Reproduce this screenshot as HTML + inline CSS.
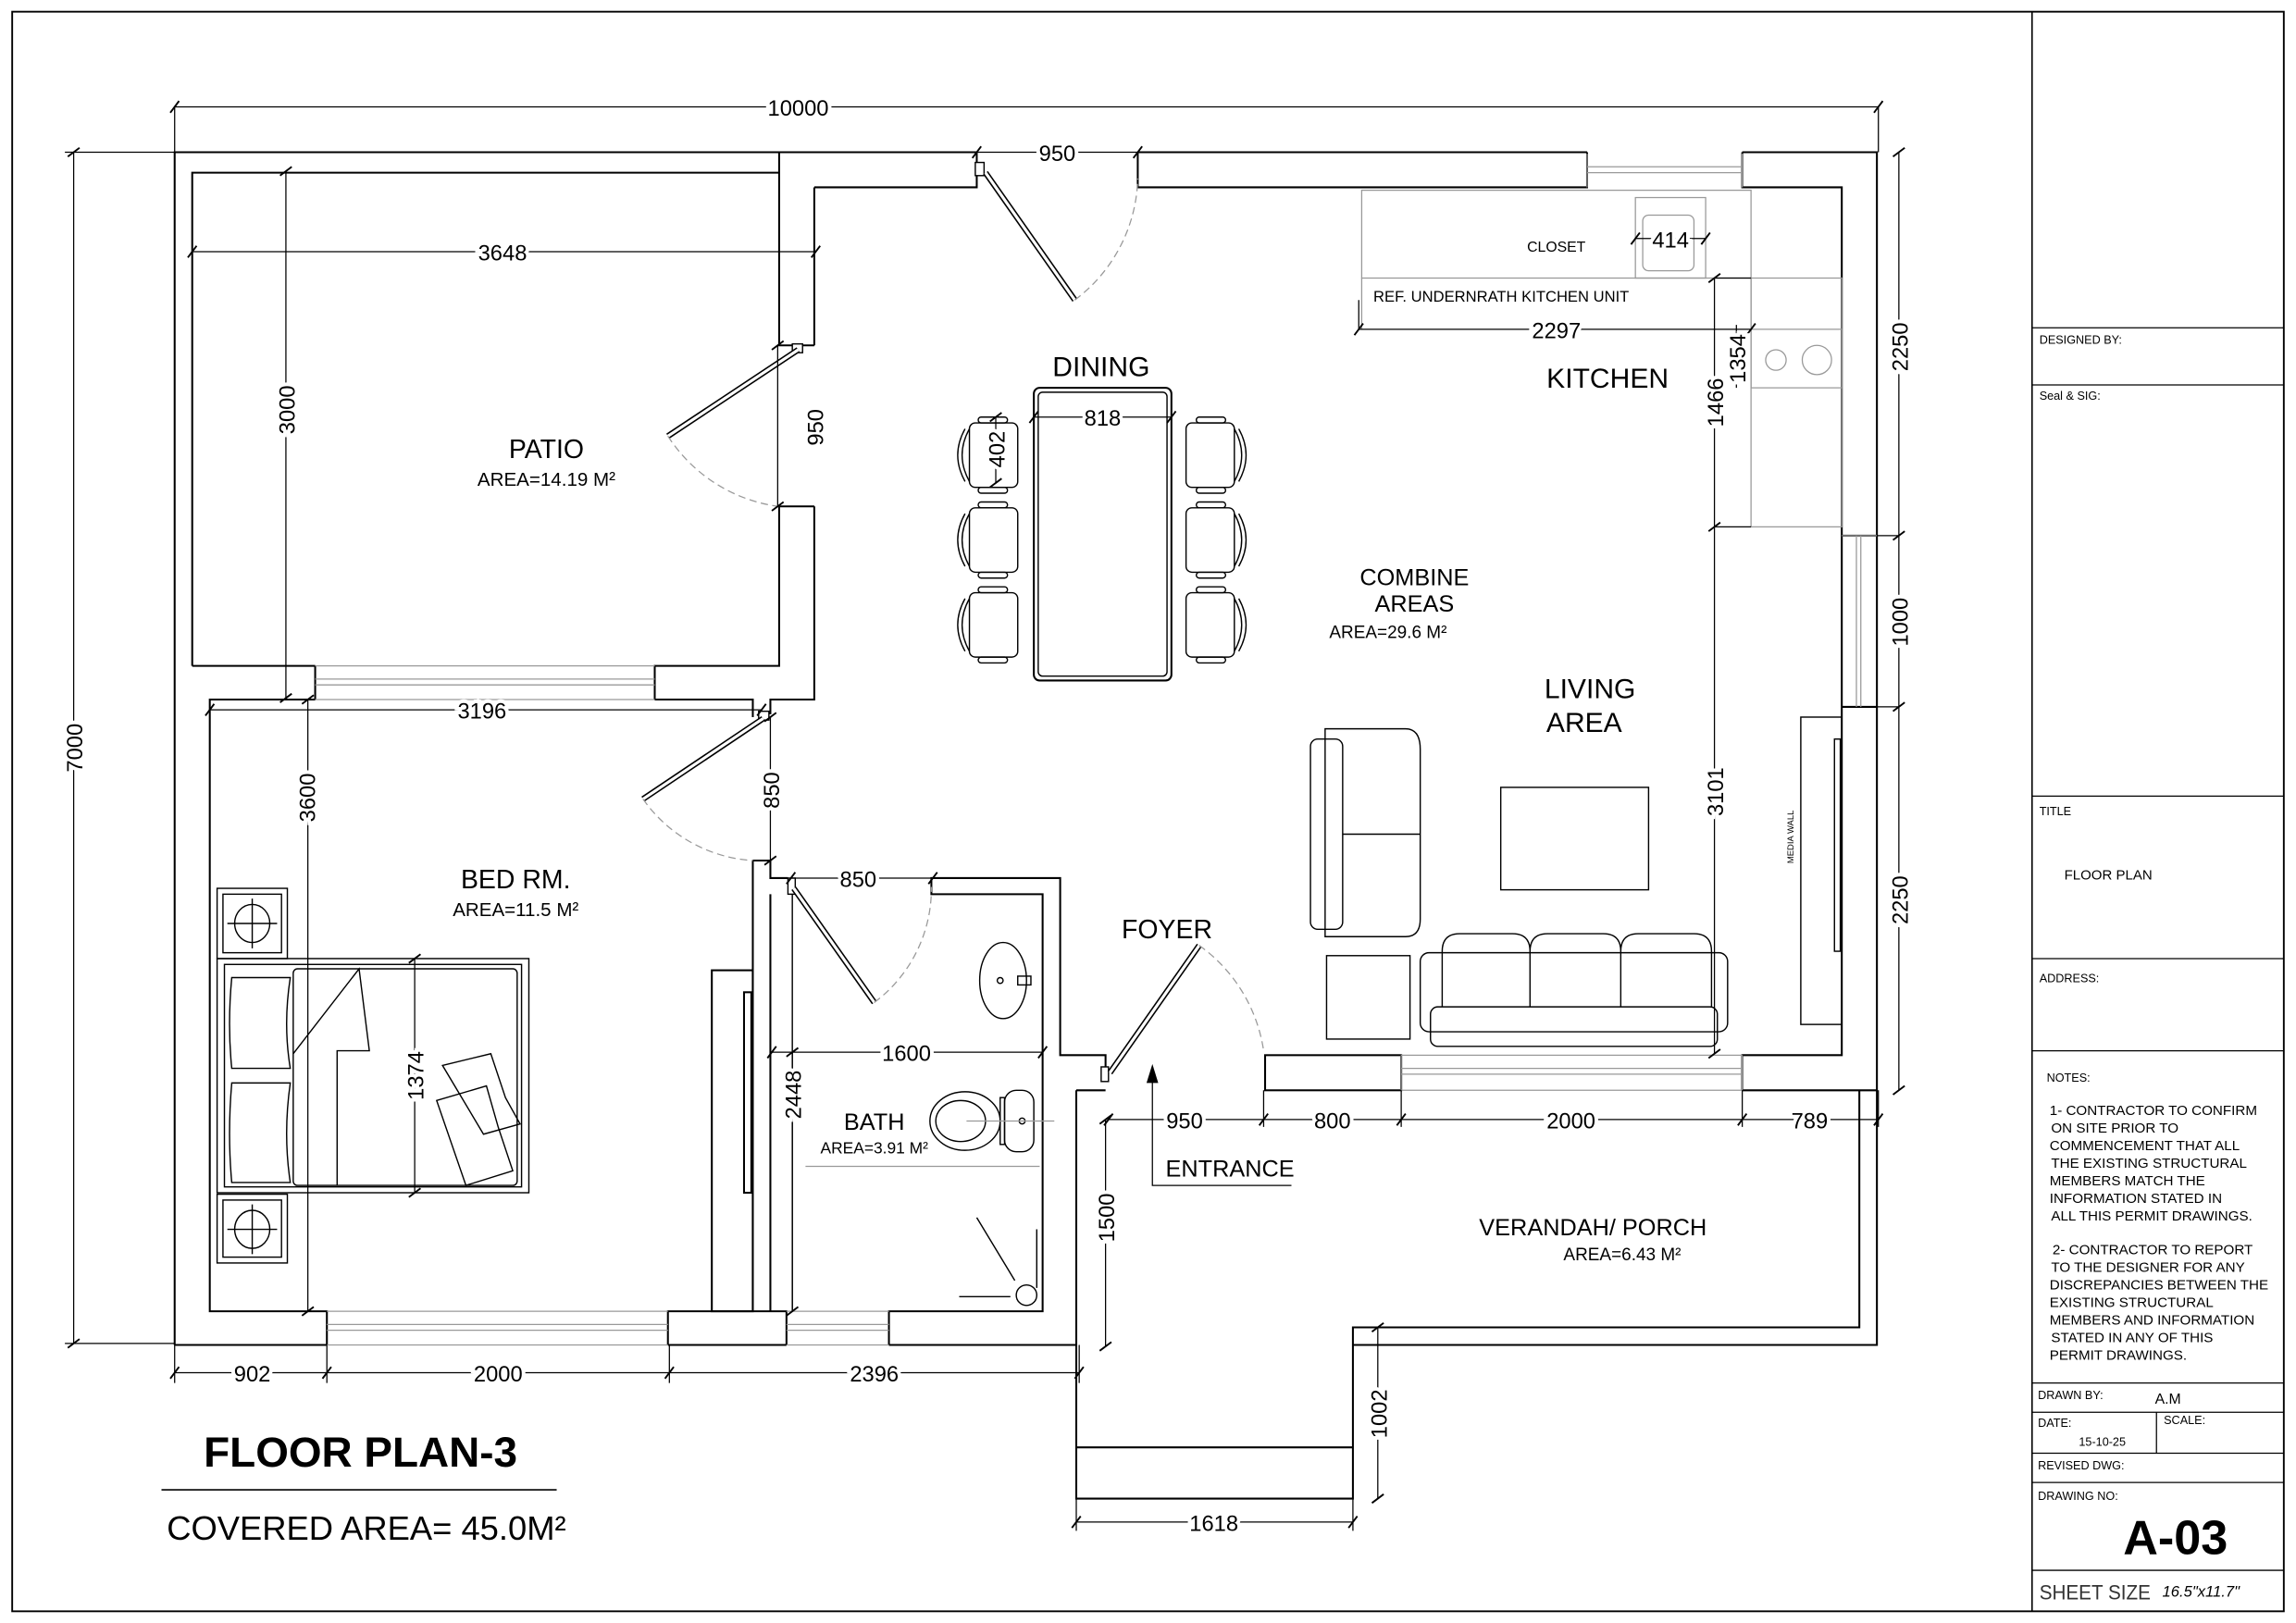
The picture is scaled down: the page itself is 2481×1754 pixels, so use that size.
<!DOCTYPE html>
<html><head><meta charset="utf-8">
<style>
html,body{margin:0;padding:0;background:#fff;}
svg{display:block;}
text{font-family:"Liberation Sans",sans-serif;fill:#000;}
.d{font-size:15px;stroke:#fff;stroke-width:5px;paint-order:stroke;}
.w{fill:none;stroke:#000;stroke-width:1.3;}
.t{fill:none;stroke:#000;stroke-width:0.9;}
.g{fill:none;stroke:#999;stroke-width:0.8;}
.dash{fill:none;stroke:#999;stroke-width:0.8;stroke-dasharray:5 3;}
.tb{font-size:8px;}
.nt{font-size:9.6px;}
</style></head>
<body>
<svg width="2481" height="1754" viewBox="0 0 1568 1109" xmlns="http://www.w3.org/2000/svg">
<rect x="0" y="0" width="1568" height="1109" fill="#fff"/>
<rect x="8" y="8" width="1552" height="1093" fill="none" stroke="#000" stroke-width="1.2"/>
<line x1="1388" y1="8" x2="1388" y2="1101" stroke="#000" stroke-width="1"/>
<g stroke="#000" stroke-width="0.8">
<line x1="1388" y1="224" x2="1560" y2="224"/>
<line x1="1388" y1="263" x2="1560" y2="263"/>
<line x1="1388" y1="544" x2="1560" y2="544"/>
<line x1="1388" y1="655" x2="1560" y2="655"/>
<line x1="1388" y1="718" x2="1560" y2="718"/>
<line x1="1388" y1="945" x2="1560" y2="945"/>
<line x1="1388" y1="965" x2="1560" y2="965"/>
<line x1="1388" y1="993" x2="1560" y2="993"/>
<line x1="1388" y1="1013" x2="1560" y2="1013"/>
<line x1="1388" y1="1073" x2="1560" y2="1073"/>
<line x1="1473" y1="965" x2="1473" y2="993"/>
</g>
<text class="tb" x="1393" y="235">DESIGNED BY:</text>
<text class="tb" x="1393" y="273">Seal &amp; SIG:</text>
<text class="tb" x="1393" y="557">TITLE</text>
<text x="1410" y="601" style="font-size:9.5px">FLOOR PLAN</text>
<text class="tb" x="1393" y="671">ADDRESS:</text>
<text class="tb" x="1398" y="739">NOTES:</text>
<g class="nt">
<text x="1400" y="762">1- CONTRACTOR TO CONFIRM</text>
<text x="1401" y="774">ON SITE PRIOR TO</text>
<text x="1400" y="786">COMMENCEMENT THAT ALL</text>
<text x="1401" y="798">THE EXISTING STRUCTURAL</text>
<text x="1400" y="810">MEMBERS MATCH THE</text>
<text x="1400" y="822">INFORMATION STATED IN</text>
<text x="1401" y="834">ALL THIS PERMIT DRAWINGS.</text>
<text x="1402" y="857">2- CONTRACTOR TO REPORT</text>
<text x="1401" y="869">TO THE DESIGNER FOR ANY</text>
<text x="1400" y="881">DISCREPANCIES BETWEEN THE</text>
<text x="1400" y="893">EXISTING STRUCTURAL</text>
<text x="1400" y="905">MEMBERS AND INFORMATION</text>
<text x="1401" y="917">STATED IN ANY OF THIS</text>
<text x="1400" y="929">PERMIT DRAWINGS.</text>
</g>
<text class="tb" x="1392" y="956">DRAWN BY:</text>
<text x="1472" y="959" style="font-size:10px">A.M</text>
<text class="tb" x="1392" y="975">DATE:</text>
<text class="tb" x="1420" y="988">15-10-25</text>
<text class="tb" x="1478" y="973">SCALE:</text>
<text class="tb" x="1392" y="1004">REVISED DWG:</text>
<text class="tb" x="1392" y="1025">DRAWING NO:</text>
<text x="1486" y="1062" text-anchor="middle" style="font-size:33px;font-weight:bold">A-03</text>
<text x="1393" y="1093" textLength="76" lengthAdjust="spacingAndGlyphs" style="font-size:14px;fill:#333">SHEET SIZE</text>
<text x="1477" y="1091" style="font-size:10.5px;font-style:italic">16.5"x11.7"</text>

<g class="w">
<path d="M119,919 V104 H667"/>
<path d="M777,104 H1084"/>
<path d="M1190,104 H1282 V745 H1190"/>
<path d="M119,919 H223 M456,919 H537 M607,919 H735"/>
<path d="M131,455 V118 H532 M532,104 V236 H556 M556,128 V236"/>
<path d="M532,346 H556 M532,346 V455 H447 V478 M215,455 H131 M215,455 V478"/>
<path d="M556,346 V478 H526 V488"/>
<path d="M556,128 H667 V104 M777,104 V128 H1084 V104 M1190,104 V128 H1258 V366 H1282 M1258,366 V483 M1282,483 H1258 V721 H1190 V745"/>
<path d="M215,478 H143 V896 H223 V919 M456,919 V896 H537 V919 M447,478 H514 V490"/>
<path d="M514,588 V896 M514,588 H526 V600 H538 M526,611 V896 M607,919 V896 H712 V611 H636 V600 H724 V721 H755 V735"/>
<path d="M735,745 H755 M735,745 V1024 H924 V907 H1270 V745 M735,989 H924 M924,919 H1282 V745"/>
<rect x="864" y="721" width="93" height="24"/>
<rect x="486" y="663" width="28" height="233"/>
</g>
<line x1="541" y1="611" x2="541" y2="896" class="t"/>
<g class="g">
<path d="M1084,105 V128 M1190,105 V128 M1084,114 H1190 M1084,118 H1190"/>
<path d="M1258,366 H1282 M1268,366 V483 M1271,366 V483"/>
<path d="M957,721 V745 M1190,721 V745 M957,730 H1190 M957,734 H1190"/>
<path d="M215,464 H447 M215,468 H447"/>
<path d="M223,905 H456 M223,909 H456"/>
<path d="M537,905 H607 M537,909 H607"/>
<path d="M957,721 H1190 M957,745 H1190 M215,455 H447 M215,478 H447 M223,896 H456 M223,919 H456 M537,896 H607 M537,919 H607"/>
</g>
<rect x="508" y="678" width="5" height="137" class="w"/>

<g stroke="#000" stroke-width="0.9" fill="#fff">
<rect x="666" y="111" width="6" height="9"/>
<rect x="541" y="235" width="7" height="6"/>
<rect x="518" y="486" width="7" height="6"/>
<rect x="538" y="600" width="5" height="11"/>
<rect x="752" y="729" width="5" height="10"/>
</g>
<g>
<line x1="673" y1="118" x2="734" y2="205" stroke="#000" stroke-width="4"/>
<line x1="673" y1="118" x2="734" y2="205" stroke="#fff" stroke-width="2"/>
<line x1="545" y1="239" x2="456" y2="298" stroke="#000" stroke-width="4"/>
<line x1="545" y1="239" x2="456" y2="298" stroke="#fff" stroke-width="2"/>
<line x1="521" y1="491" x2="439" y2="546" stroke="#000" stroke-width="4"/>
<line x1="521" y1="491" x2="439" y2="546" stroke="#fff" stroke-width="2"/>
<line x1="542" y1="607" x2="597" y2="685" stroke="#000" stroke-width="4"/>
<line x1="542" y1="607" x2="597" y2="685" stroke="#fff" stroke-width="2"/>
<line x1="758" y1="733" x2="819" y2="646" stroke="#000" stroke-width="4"/>
<line x1="758" y1="733" x2="819" y2="646" stroke="#fff" stroke-width="2"/>
</g>
<path class="dash" d="M734,205 A107,107 0 0 0 777,122"/>
<path class="dash" d="M456,298 A107,107 0 0 0 531,346"/>
<path class="dash" d="M439,546 A99,99 0 0 0 514,588"/>
<path class="dash" d="M597,685 A97,97 0 0 0 636,606"/>
<path class="dash" d="M819,646 A108,108 0 0 1 863,718"/>

<rect x="706" y="265" width="94" height="200" rx="4" class="w"/>
<rect x="709" y="268" width="88" height="194" rx="3" class="t"/>
<g class="t">
<g id="chL">
<rect x="662" y="289" width="33" height="44" rx="4"/>
<path d="M662,293 Q652,311 662,329 M659,293 Q649,311 659,329"/>
<rect x="668" y="285" width="20" height="4" rx="2"/>
<rect x="668" y="333" width="20" height="4" rx="2"/>
</g>
<use href="#chL" y="58"/>
<use href="#chL" y="116"/>
<use href="#chL" transform="translate(1505,0) scale(-1,1)"/>
<use href="#chL" transform="translate(1505,58) scale(-1,1)"/>
<use href="#chL" transform="translate(1505,116) scale(-1,1)"/>
</g>

<g class="g">
<rect x="930" y="130" width="266" height="60"/>
<rect x="1117" y="135" width="48" height="55"/>
<rect x="1122" y="147" width="35" height="38" rx="4"/>
<path d="M930,190 V225 M1196,190 V225"/>
<rect x="1196" y="190" width="62" height="170"/>
<rect x="1196" y="225" width="62" height="40"/>
<circle cx="1213" cy="246" r="7"/>
<circle cx="1241" cy="246" r="10"/>
</g>
<text x="1043" y="172" style="font-size:10px">CLOSET</text>
<text x="938" y="206" style="font-size:10.5px">REF. UNDERNRATH KITCHEN UNIT</text>
<text x="1098" y="265" text-anchor="middle" style="font-size:19px">KITCHEN</text>

<g class="t">
<path d="M905,498 H960 Q970,498 970,512 V628 Q970,640 960,640 H905 Z"/>
<rect x="895" y="505" width="22" height="130" rx="5"/>
<path d="M917,570 H970"/>
<rect x="1025" y="538" width="101" height="70"/>
<rect x="906" y="653" width="57" height="57"/>
<rect x="970" y="651" width="210" height="54" rx="6"/>
<rect x="977" y="688" width="196" height="27" rx="5"/>
<path d="M985,688 V650 Q985,638 997,638 H1033 Q1045,638 1045,650 V688 M1045,650 Q1045,638 1057,638 H1095 Q1107,638 1107,650 V688 M1107,650 Q1107,638 1119,638 H1157 Q1169,638 1169,650 V688"/>
<rect x="1230" y="490" width="28" height="210"/>
<rect x="1253" y="505" width="4" height="145"/>
</g>
<text transform="translate(1225,590) rotate(-90)" style="font-size:6px">MEDIA WALL</text>

<g class="t">
<rect x="148" y="607" width="48" height="48"/>
<rect x="152" y="611" width="40" height="40"/>
<ellipse cx="172" cy="631" rx="12" ry="13"/>
<path d="M172,614 V648 M155,631 H189"/>
<rect x="148" y="816" width="48" height="47"/>
<rect x="152" y="820" width="40" height="39"/>
<ellipse cx="172" cy="840" rx="12" ry="13"/>
<path d="M172,823 V857 M155,840 H189"/>
<rect x="148" y="655" width="213" height="160"/>
<rect x="153" y="659" width="203" height="152"/>
<rect x="200" y="662" width="153" height="148" rx="3"/>
<path d="M158,668 H198 Q193,700 198,730 H158 Q155,700 158,668 Z"/>
<path d="M158,740 H198 Q193,775 198,808 H158 Q155,775 158,740 Z"/>
<path d="M200,720 L245,662 L252,718 L230,718 L230,810"/>
<path d="M302,728 L335,720 L345,750 L355,768 L330,775 Z"/>
<path d="M298,752 L332,742 L340,770 L350,800 L318,810 Z"/>
</g>

<g class="t">
<ellipse cx="685" cy="670" rx="16" ry="26"/>
<circle cx="683" cy="670" r="2"/>
<rect x="695" y="667" width="9" height="6"/>
<ellipse cx="659" cy="766" rx="24" ry="20"/>
<ellipse cx="656" cy="766" rx="17" ry="14"/>
<rect x="686" y="745" width="20" height="42" rx="8"/>
<rect x="683" y="750" width="3" height="32"/>
<circle cx="698" cy="766" r="2"/>
<path d="M667,832 L693,875 M655,886 H690 M708,840 V880"/>
<circle cx="701" cy="885" r="7"/>
</g>
<line x1="660" y1="766" x2="720" y2="766" class="g"/>
<line x1="550" y1="797" x2="710" y2="797" class="g"/>

<g stroke="#000" stroke-width="0.8" fill="none">
<path d="M119,73 H1283 M119,73 V104 M1283,73 V104"/>
<path d="M50,104 V918 M44,104 H119 M44,918 H119"/>
<path d="M131,172 H557"/>
<path d="M195,117 V477"/>
<path d="M667,104 H777"/>
<path d="M531,236 V346"/>
<path d="M143,485 H520"/>
<path d="M210,478 V896"/>
<path d="M526,490 V588"/>
<path d="M540,600 H637"/>
<path d="M527,719 H712"/>
<path d="M541,719 V896"/>
<path d="M283,655 V815"/>
<path d="M706,285 H800"/>
<path d="M680,285 V330"/>
<path d="M928,225 H1196 M928,205 V225"/>
<path d="M1117,163 H1165"/>
<path d="M1171,190 V720 M1171,190 H1196 M1171,360 H1196"/>
<path d="M1186,222 V265"/>
<path d="M1297,104 V745 M1297,366 H1282 M1297,483 H1282"/>
<path d="M119,938 H737 M119,919 V945 M223,919 V945 M457,919 V945 M737,919 V945"/>
<path d="M757,765 H1283 M863,745 V770 M957,745 V770 M1190,745 V770 M1283,745 V770"/>
<path d="M755,765 V920"/>
<path d="M941,907 V1024"/>
<path d="M735,1040 H924 M735,1024 V1046 M924,1024 V1046"/>
<path d="M787,733 V810 H882"/>
</g>
<path d="M787,727 L783,740 L791,740 Z" fill="#000"/>
<g stroke="#000" stroke-width="1.2">
<path d="M116,77 L122,69 M1280,77 L1286,69"/>
<path d="M46,107 L54,101 M46,921 L54,915"/>
<path d="M128,176 L134,168 M554,176 L560,168"/>
<path d="M191,120 L199,114 M191,480 L199,474"/>
<path d="M664,108 L670,100 M774,108 L780,100"/>
<path d="M527,239 L535,233 M527,349 L535,343"/>
<path d="M140,489 L146,481 M517,489 L523,481"/>
<path d="M206,481 L214,475 M206,899 L214,893"/>
<path d="M522,493 L530,487 M522,591 L530,585"/>
<path d="M537,604 L543,596 M634,604 L640,596"/>
<path d="M524,723 L530,715 M709,723 L715,715"/>
<path d="M537,722 L545,716 M537,899 L545,893"/>
<path d="M279,658 L287,652 M279,818 L287,812"/>
<path d="M703,289 L709,281 M797,289 L803,281"/>
<path d="M676,288 L684,282 M676,333 L684,327"/>
<path d="M925,229 L931,221 M1193,229 L1199,221"/>
<path d="M1114,167 L1120,159 M1162,167 L1168,159"/>
<path d="M1167,193 L1175,187 M1167,363 L1175,357 M1167,723 L1175,717"/>
<path d="M1293,107 L1301,101 M1293,369 L1301,363 M1293,486 L1301,480 M1293,748 L1301,742"/>
<path d="M116,942 L122,934 M220,942 L226,934 M454,942 L460,934 M734,942 L740,934"/>
<path d="M754,769 L760,761 M860,769 L866,761 M954,769 L960,761 M1187,769 L1193,761 M1280,769 L1286,761"/>
<path d="M751,768 L759,762 M751,923 L759,917"/>
<path d="M937,910 L945,904 M937,1027 L945,1021"/>
<path d="M732,1044 L738,1036 M921,1044 L927,1036"/>
</g>
<g class="d">
<text x="545" y="79" text-anchor="middle">10000</text>
<text transform="translate(56,511) rotate(-90)" text-anchor="middle">7000</text>
<text x="343" y="178" text-anchor="middle">3648</text>
<text transform="translate(201,280) rotate(-90)" text-anchor="middle">3000</text>
<text x="722" y="110" text-anchor="middle">950</text>
<text transform="translate(562,292) rotate(-90)" text-anchor="middle">950</text>
<text x="329" y="491" text-anchor="middle">3196</text>
<text transform="translate(215,545) rotate(-90)" text-anchor="middle">3600</text>
<text transform="translate(532,540) rotate(-90)" text-anchor="middle">850</text>
<text x="586" y="606" text-anchor="middle">850</text>
<text x="619" y="725" text-anchor="middle">1600</text>
<text transform="translate(547,748) rotate(-90)" text-anchor="middle">2448</text>
<text transform="translate(289,735) rotate(-90)" text-anchor="middle">1374</text>
<text x="753" y="291" text-anchor="middle">818</text>
<text transform="translate(686,307) rotate(-90)" text-anchor="middle">402</text>
<text x="1063" y="231" text-anchor="middle">2297</text>
<text x="1141" y="169" text-anchor="middle">414</text>
<text transform="translate(1177,275) rotate(-90)" text-anchor="middle">1466</text>
<text transform="translate(1192,245) rotate(-90)" text-anchor="middle">1354</text>
<text transform="translate(1177,541) rotate(-90)" text-anchor="middle">3101</text>
<text transform="translate(1303,237) rotate(-90)" text-anchor="middle">2250</text>
<text transform="translate(1303,425) rotate(-90)" text-anchor="middle">1000</text>
<text transform="translate(1303,615) rotate(-90)" text-anchor="middle">2250</text>
<text x="172" y="944" text-anchor="middle">902</text>
<text x="340" y="944" text-anchor="middle">2000</text>
<text x="597" y="944" text-anchor="middle">2396</text>
<text x="809" y="771" text-anchor="middle">950</text>
<text x="910" y="771" text-anchor="middle">800</text>
<text x="1073" y="771" text-anchor="middle">2000</text>
<text x="1236" y="771" text-anchor="middle">789</text>
<text transform="translate(761,832) rotate(-90)" text-anchor="middle">1500</text>
<text transform="translate(947,966) rotate(-90)" text-anchor="middle">1002</text>
<text x="829" y="1046" text-anchor="middle">1618</text>
</g>

<text x="373" y="313" text-anchor="middle" style="font-size:18px">PATIO</text>
<text x="373" y="332" text-anchor="middle" style="font-size:13px">AREA=14.19 M²</text>
<text x="752" y="257" text-anchor="middle" style="font-size:19px">DINING</text>
<text x="966" y="400" text-anchor="middle" style="font-size:16px">COMBINE</text>
<text x="966" y="418" text-anchor="middle" style="font-size:16px">AREAS</text>
<text x="948" y="436" text-anchor="middle" style="font-size:12px">AREA=29.6 M²</text>
<text x="1086" y="477" text-anchor="middle" style="font-size:19px">LIVING</text>
<text x="1082" y="500" text-anchor="middle" style="font-size:19px">AREA</text>
<text x="352" y="607" text-anchor="middle" style="font-size:18px">BED RM.</text>
<text x="352" y="626" text-anchor="middle" style="font-size:13px">AREA=11.5 M²</text>
<text x="597" y="772" text-anchor="middle" style="font-size:16px">BATH</text>
<text x="597" y="788" text-anchor="middle" style="font-size:11px">AREA=3.91 M²</text>
<text x="797" y="641" text-anchor="middle" style="font-size:18px">FOYER</text>
<text x="840" y="804" text-anchor="middle" style="font-size:16px">ENTRANCE</text>
<text x="1088" y="844" text-anchor="middle" style="font-size:16px">VERANDAH/ PORCH</text>
<text x="1108" y="861" text-anchor="middle" style="font-size:12px">AREA=6.43 M²</text>

<text x="246" y="1002" text-anchor="middle" style="font-size:29px;font-weight:bold">FLOOR PLAN-3</text>
<line x1="110" y1="1018" x2="380" y2="1018" stroke="#000" stroke-width="1"/>
<text x="250" y="1052" text-anchor="middle" style="font-size:23px">COVERED AREA= 45.0M²</text>
</svg>
</body></html>
